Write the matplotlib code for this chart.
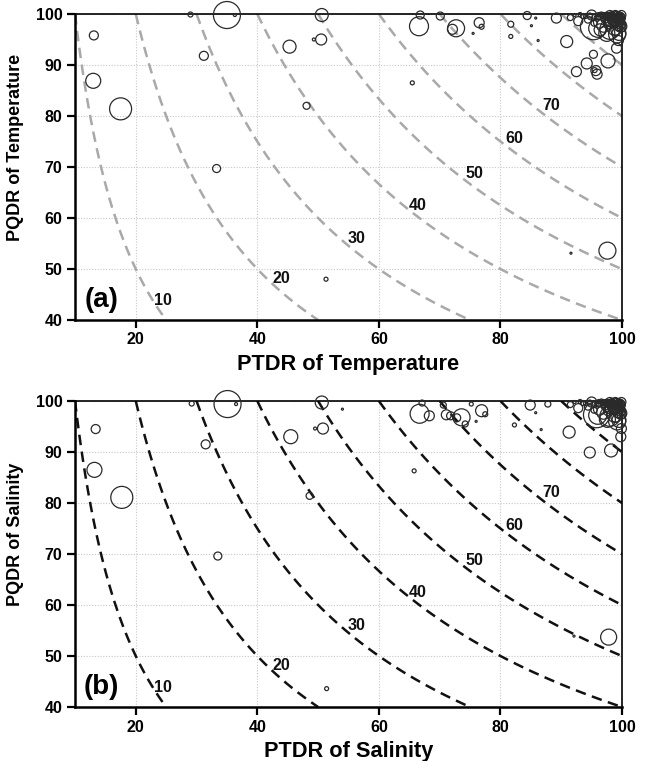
import matplotlib
matplotlib.use("Agg")
import matplotlib.pyplot as plt
import numpy as np

plt.rcParams["font.family"] = ["Liberation Sans", "DejaVu Sans"]
plt.rcParams["font.weight"] = "bold"

# ── data ─────────────────────────────────────────────────────────────────────
# bubble diameters are in pixels (converted to marker area below)
temp_ptdr = [13.1, 13.0, 17.5, 29.0, 35.0, 36.3, 31.2, 33.3, 45.3, 48.1, 50.5, 49.3,
             50.6, 66.6, 70.1, 66.8, 72.7, 72.1, 76.5, 76.9, 75.5, 65.5, 81.7, 81.7,
             85.1, 86.2, 84.4, 85.8, 90.9, 92.5, 94.2, 95.3, 95.7, 95.5, 95.9, 97.7,
             99.4, 99.1, 95.3, 97.5, 96.4, 89.2, 97.6, 91.6, 51.3]
temp_pqdr = [95.8, 86.9, 81.4, 99.9, 99.8, 99.8, 91.8, 69.7, 93.6, 82.0, 95.0, 95.0,
             99.8, 97.6, 99.6, 99.8, 97.2, 97.0, 98.3, 97.5, 96.2, 86.5, 98.0, 95.6,
             97.7, 94.8, 99.7, 99.2, 94.6, 88.7, 90.3, 92.1, 88.9, 89.0, 88.2, 90.8,
             94.8, 93.3, 97.5, 96.2, 96.9, 99.2, 53.6, 53.1, 48.0]
temp_size = [9, 15, 22, 5, 27, 3, 9, 8, 13, 7, 11, 3,
             13, 19, 8, 8, 17, 10, 10, 5, 2, 4, 6, 4,
             2, 2, 8, 2, 12, 10, 11, 8, 10, 5, 10, 14,
             10, 10, 26, 16, 12, 10, 17, 2, 4]

sal_ptdr = [13.4, 13.2, 17.7, 29.2, 35.1, 36.5, 31.5, 33.5, 45.5, 48.6, 50.8, 49.5,
            50.6, 66.7, 68.3, 67.1, 71.1, 71.8, 73.6, 72.8, 74.2, 70.6, 75.2, 76.9,
            77.5, 76.0, 54.0, 65.8, 82.3, 84.9, 85.8, 86.7, 87.8, 91.3, 94.7, 98.2,
            99.8, 99.9, 95.8, 97.6, 97.8, 92.1, 51.4]
sal_pqdr = [94.5, 86.5, 81.1, 99.5, 99.4, 99.4, 91.5, 69.6, 93.0, 81.4, 94.6, 94.6,
            99.7, 97.5, 97.1, 99.6, 97.3, 97.1, 96.8, 96.7, 95.5, 99.2, 99.4, 98.1,
            97.4, 96.0, 98.4, 86.3, 95.3, 99.2, 97.7, 94.4, 99.4, 93.9, 89.9, 90.3,
            93.0, 94.6, 97.3, 96.4, 53.7, 53.9, 43.6]
sal_size = [9, 15, 22, 5, 27, 3, 9, 8, 14, 7, 11, 3,
            13, 19, 10, 6, 10, 8, 17, 8, 6, 6, 4, 12,
            5, 2, 2, 4, 4, 10, 2, 2, 6, 12, 11, 13,
            10, 10, 26, 16, 16, 2, 4]

# dense group in the upper right corner (shared by both panels)
corner_ptdr = [91.5, 92.8, 93.6, 94.4, 95.0, 95.9, 96.3, 96.8, 97.2, 97.6, 98.0, 98.3,
               98.6, 98.9, 99.2, 99.5, 99.7, 99.9, 97.0, 97.9, 98.8, 99.4, 99.8, 96.0,
               94.0, 92.2, 98.4, 99.1, 99.6, 97.4, 98.1, 98.7, 99.3, 99.9, 96.6, 95.4,
               99.0, 99.7, 98.5, 97.7,
               97.3, 97.5, 97.8, 98.0, 98.2, 98.4, 98.6, 98.8, 99.0, 99.2, 99.4, 99.6,
               99.8, 99.9, 98.1, 98.5, 98.9, 99.3, 99.7, 99.5, 99.1, 98.7, 98.3, 97.9,
               99.6, 99.8, 99.0, 98.6, 99.4, 99.9, 93.1, 94.7, 95.6, 96.2, 96.9, 99.5,
               98.0, 99.2, 97.1, 98.8]
corner_pqdr = [99.3, 98.6, 99.6, 98.9, 99.8, 99.2, 98.4, 99.7, 99.0, 99.5, 99.8, 99.1,
               99.6, 99.9, 99.4, 99.7, 99.2, 99.8, 97.8, 98.6, 98.2, 98.9, 97.6, 97.2,
               99.5, 99.8, 99.9, 99.0, 99.5, 99.9, 99.3, 98.7, 99.7, 99.0, 99.9, 98.2,
               96.8, 98.4, 99.6, 98.0,
               99.8, 99.4, 99.9, 99.6, 99.9, 99.5, 99.8, 99.6, 99.9, 99.7, 99.9, 99.8,
               99.6, 99.3, 99.2, 99.0, 99.3, 99.1, 99.0, 98.7, 98.8, 98.9, 98.6, 98.8,
               98.4, 98.0, 98.5, 98.3, 97.9, 97.4, 99.9, 99.7, 99.4, 99.6, 99.8, 96.2,
               97.0, 96.0, 99.3, 97.3]
corner_size = [6, 9, 5, 7, 10, 6, 12, 5, 8, 6, 9, 7,
               5, 8, 6, 7, 5, 9, 14, 11, 10, 8, 12, 18,
               4, 3, 6, 5, 7, 4, 6, 9, 5, 7, 5, 6,
               10, 8, 4, 9,
               5, 6, 4, 7, 5, 6, 4, 5, 6, 4, 5, 6,
               7, 8, 6, 5, 7, 6, 5, 8, 7, 6, 5, 4,
               9, 10, 11, 8, 12, 9, 4, 5, 6, 7, 5, 14,
               20, 17, 6, 15]

levels = [10, 20, 30, 40, 50, 60, 70, 80, 90]
label_levels = [10, 20, 30, 40, 50, 60, 70]
label_xy = [(24.5, 43.9), (44.0, 48.2), (56.4, 56.0), (66.4, 62.5),
            (75.7, 68.7), (82.3, 75.5), (88.3, 82.0)]

panels = [
    ("(a)", "Temperature", temp_ptdr, temp_pqdr, temp_size, "#a9a9a9"),
    ("(b)", "Salinity", sal_ptdr, sal_pqdr, sal_size, "#111111"),
]

# ── figure ───────────────────────────────────────────────────────────────────
fig = plt.figure(figsize=(6.48, 7.61), dpi=100)
ax_pos = [
    [75 / 648, 1 - 320 / 761, 547 / 648, 306 / 761],
    [75 / 648, 1 - 707 / 761, 547 / 648, 306 / 761],
]

gx = np.linspace(10, 100, 300)
gy = np.linspace(40, 100, 300)
GX, GY = np.meshgrid(gx, gy)
GZ = GX * GY / 100.0

for pos, (tag, var, px, py, ps, lcol) in zip(ax_pos, panels):
    ax = fig.add_axes(pos)
    ax.set_xlim(10, 100)
    ax.set_ylim(40, 100)
    ax.set_xticks([20, 40, 60, 80, 100])
    ax.set_yticks([40, 50, 60, 70, 80, 90, 100])
    ax.grid(True, color="#c8c8c8", linestyle=(0, (1, 1.5)), linewidth=0.8)
    ax.set_axisbelow(True)
    for side in ("top", "right"):
        ax.spines[side].set_linewidth(1.2)
    for side in ("left", "bottom"):
        ax.spines[side].set_linewidth(1.8)
    ax.tick_params(direction="out", length=6, width=1.6, labelsize=11.5,
                   top=False, right=False, pad=3)

    ax.contour(GX, GY, GZ, levels=levels, colors=lcol, linewidths=1.8,
               linestyles=[(0, (4.2, 2.6))], zorder=2)
    for lev, (lx, ly) in zip(label_levels, label_xy):
        ax.text(lx, ly, str(lev), ha="center", va="center", fontsize=11.5,
                fontweight="bold", color="#111111", zorder=4)

    xs = list(px) + corner_ptdr
    ys = list(py) + corner_pqdr
    ds = np.array(list(ps) + corner_size, dtype=float)
    ax.scatter(xs, ys, s=(ds * 0.72) ** 2, facecolors="none",
               edgecolors="#2a2a2a", linewidths=0.9, zorder=3, clip_on=False)

    ax.text(14.3, 44.0, tag, ha="center", va="center", fontsize=20,
            fontweight="bold", color="black", zorder=5)
    ax.set_xlabel(f"PTDR of {var}", fontsize=15.7, fontweight="bold")
    ax.set_ylabel(f"PQDR of {var}", fontsize=13, fontweight="bold")
    ax.xaxis.set_label_coords(0.5, -0.112)
    ax.yaxis.set_label_coords(-0.093, 0.565)

fig.savefig("out.png", dpi=100)
